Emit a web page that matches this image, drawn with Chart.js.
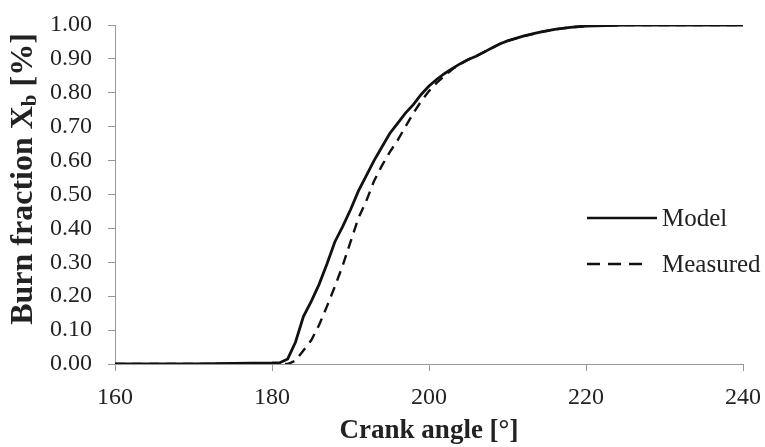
<!DOCTYPE html>
<html>
<head>
<meta charset="utf-8">
<script src="https://cdn.jsdelivr.net/npm/chart.js@4"></script>
<style>
  html, body { margin: 0; padding: 0; background: #fff; }
  #wrap { width: 765px; height: 447px; position: relative; }
</style>
</head>
<body>
<div id="wrap"><canvas id="burnChart"></canvas></div>
<script>
const crankAngles = [160, 170, 180, 181, 182, 183, 184, 185, 186, 187, 188, 189, 190, 191, 192, 193, 194, 195, 196, 197, 198, 199, 200,
  201, 202, 203, 204, 205, 206, 207, 208, 209, 210, 212, 214, 216, 218, 220, 225, 230, 240];
const modelValues = [0, 0, 0.003, 0.004, 0.015, 0.065, 0.14, 0.185, 0.235, 0.295, 0.36, 0.405, 0.455, 0.51, 0.555, 0.60, 0.64, 0.68, 0.71, 0.74, 0.765, 0.795, 0.82,
  0.84, 0.857, 0.872, 0.886, 0.898, 0.908, 0.92, 0.932, 0.944, 0.953, 0.967, 0.978, 0.987, 0.993, 0.997, 1, 1, 1];
const measuredValues = [0, 0, 0, 0, 0, 0.01, 0.04, 0.07, 0.115, 0.17, 0.228, 0.29, 0.36, 0.43, 0.48, 0.54, 0.585, 0.625, 0.66, 0.70, 0.74, 0.775, 0.805,
  0.83, 0.85, 0.87, 0.885, 0.898, 0.908, 0.92, 0.932, 0.944, 0.953, 0.967, 0.978, 0.987, 0.993, 0.997, 1, 1, 1];
const seriesLabels = ['Model', 'Measured'];
const xTitle = 'Crank angle [°]';

const serif = '"Liberation Serif", "Times New Roman", serif';

function toPoints(values) {
  return crankAngles.map((a, i) => ({ x: a, y: values[i] }));
}

// y title with subscript b, drawn rotated
const yTitlePlugin = {
  id: 'yTitle',
  afterDraw(chart) {
    const ctx = chart.ctx;
    const big = 'bold 32px ' + serif;
    const small = 'bold 21px ' + serif;
    const parts = [
      { t: 'Burn fraction X', f: big, dy: 0 },
      { t: 'b', f: small, dy: 7 },
      { t: ' [%]', f: big, dy: 0 }
    ];
    let total = 0;
    parts.forEach(p => { ctx.font = p.f; p.w = ctx.measureText(p.t).width; total += p.w; });
    ctx.save();
    ctx.translate(24, 179);
    ctx.rotate(-Math.PI / 2);
    ctx.fillStyle = '#222';
    ctx.textBaseline = 'middle';
    ctx.textAlign = 'left';
    let x = -total / 2;
    parts.forEach(p => {
      ctx.font = p.f;
      ctx.fillText(p.t, x, p.dy);
      x += p.w;
    });
    ctx.restore();
  }
};

// legend drawn inside the plot, right side
const legendPlugin = {
  id: 'sideLegend',
  afterDraw(chart) {
    const ctx = chart.ctx;
    const rows = [218, 264];
    const lineEnds = [657, 642];
    chart.data.datasets.forEach((ds, i) => {
      const y = rows[i];
      ctx.save();
      ctx.strokeStyle = ds.borderColor;
      ctx.lineWidth = 2.6;
      ctx.setLineDash(ds.borderDash ? [13, 8] : []);
      ctx.beginPath();
      ctx.moveTo(587, y);
      ctx.lineTo(lineEnds[i], y);
      ctx.stroke();
      ctx.setLineDash([]);
      ctx.fillStyle = '#222';
      ctx.font = '25px ' + serif;
      ctx.textBaseline = 'middle';
      ctx.fillText(ds.label, 662, y + 1);
      ctx.restore();
    });
  }
};

const ctx = document.getElementById('burnChart').getContext('2d');
new Chart(ctx, {
  type: 'line',
  data: {
    datasets: [
      {
        label: seriesLabels[0],
        data: toPoints(modelValues),
        borderColor: '#111',
        borderWidth: 2.8,
        pointRadius: 0,
        tension: 0,
        fill: false
      },
      {
        label: seriesLabels[1],
        data: toPoints(measuredValues),
        borderColor: '#111',
        borderWidth: 2.4,
        borderDash: [10, 7],
        pointRadius: 0,
        tension: 0,
        fill: false
      }
    ]
  },
  options: {
    responsive: true,
    maintainAspectRatio: false,
    animation: false,
    layout: { padding: { top: 25, right: 22, left: 0, bottom: 0 } },
    plugins: {
      legend: { display: false },
      tooltip: { enabled: false }
    },
    scales: {
      x: {
        type: 'linear',
        min: 160,
        max: 240,
        ticks: { stepSize: 20, color: '#222', font: { family: serif, size: 24 }, padding: 12, maxRotation: 0 },
        grid: { drawOnChartArea: false, drawTicks: true, tickLength: 7, color: '#999' },
        border: { display: true, color: '#999' },
        title: { display: true, text: xTitle, color: '#222', font: { family: serif, size: 27, weight: 'bold' }, padding: { top: 0, bottom: 0 } },
        afterFit(scale) {
          scale.height = 83;
          scale.paddingLeft = 0;
          scale.paddingRight = 0;
        }
      },
      y: {
        min: 0,
        max: 1,
        ticks: {
          stepSize: 0.1,
          color: '#222',
          font: { family: serif, size: 24 },
          padding: 16,
          callback: v => Number(v).toFixed(2)
        },
        grid: { drawOnChartArea: false, drawTicks: true, tickLength: 7, color: '#999' },
        border: { display: true, color: '#999' },
        afterFit(scale) {
          scale.width = 115;
          scale.paddingTop = 0;
          scale.paddingBottom = 0;
        }
      }
    }
  },
  plugins: [yTitlePlugin, legendPlugin]
});
</script>
</body>
</html>
